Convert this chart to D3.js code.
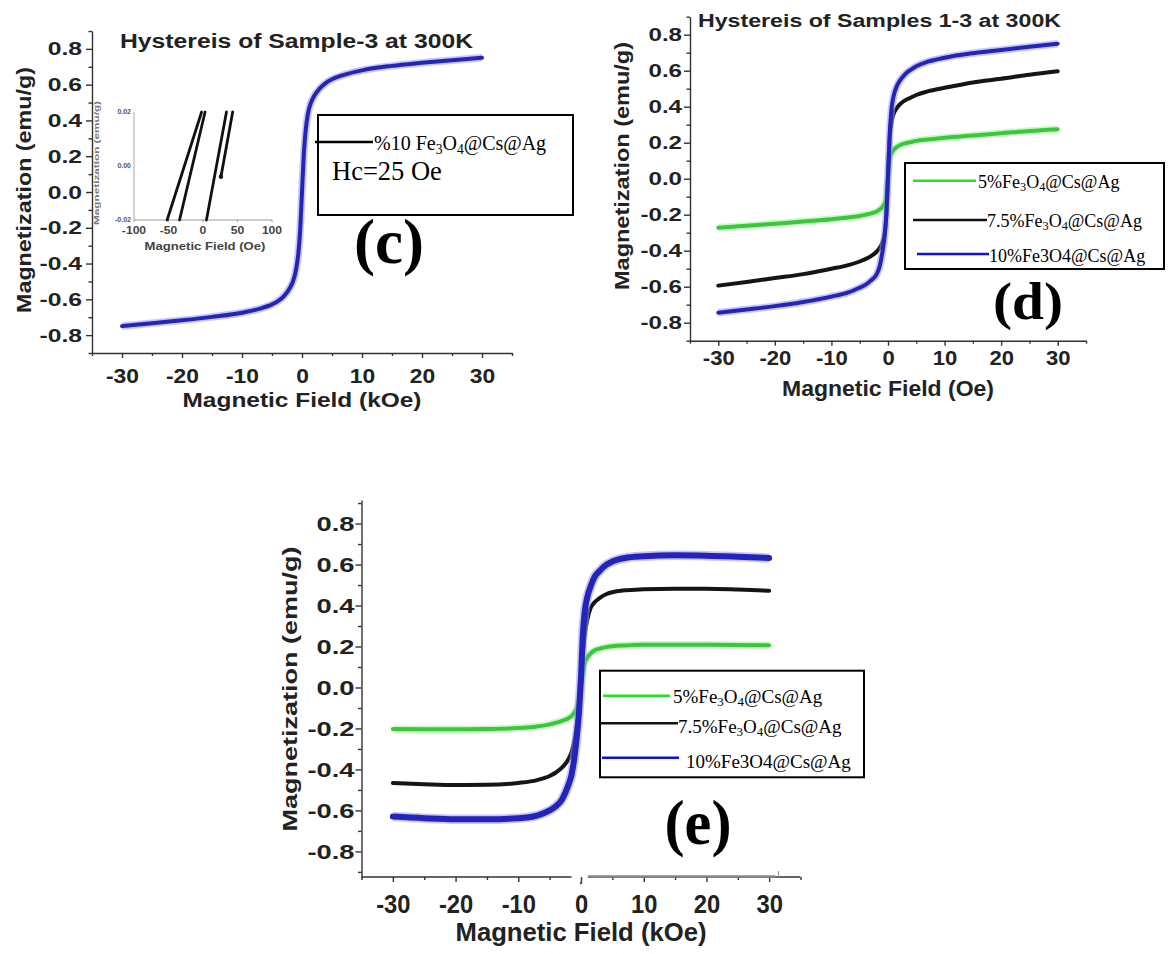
<!DOCTYPE html>
<html>
<head>
<meta charset="utf-8">
<script src="https://cdn.jsdelivr.net/npm/d3@7"></script>
<style>
  body { margin: 0; background: #fff; }
  svg { display: block; }
</style>
</head>
<body>
<svg id="fig" width="1171" height="954"></svg>
<script>
// ---------------------------------------------------------------
// Measured hysteresis data (field in kOe, magnetisation in emu/g)
// ---------------------------------------------------------------
const fieldKOe = [-30, -25, -20, -15, -10, -7, -5, -4, -3, -2, -1.5, -1, -0.6, -0.3, 0,
                  0.3, 0.6, 1, 1.5, 2, 3, 4, 5, 7, 10, 15, 20, 25, 30];

// (c) sample 3, 10 % Fe3O4@Cs@Ag
const magSample3 = [-0.750, -0.734, -0.717, -0.698, -0.675, -0.652, -0.628, -0.610, -0.582, -0.535, -0.500, -0.435, -0.340, -0.210, 0.000,
                    0.210, 0.340, 0.440, 0.500, 0.535, 0.580, 0.610, 0.630, 0.655, 0.680, 0.705, 0.722, 0.737, 0.750];

// (d) samples 1-3
const magD5  = [-0.272, -0.262, -0.250, -0.238, -0.225, -0.215, -0.207, -0.200, -0.193, -0.182, -0.172, -0.158, -0.138, -0.108, 0.000,
                0.110, 0.140, 0.160, 0.175, 0.185, 0.196, 0.203, 0.210, 0.218, 0.228, 0.240, 0.252, 0.265, 0.275];
const magD75 = [-0.594, -0.574, -0.552, -0.530, -0.500, -0.480, -0.460, -0.447, -0.430, -0.405, -0.385, -0.355, -0.305, -0.215, 0.000,
                0.220, 0.310, 0.360, 0.390, 0.410, 0.435, 0.450, 0.465, 0.485, 0.505, 0.535, 0.555, 0.578, 0.597];
const magD10 = [-0.745, -0.727, -0.708, -0.685, -0.655, -0.632, -0.605, -0.590, -0.565, -0.530, -0.490, -0.410, -0.320, -0.200, 0.020,
                0.250, 0.380, 0.460, 0.510, 0.540, 0.580, 0.605, 0.625, 0.650, 0.672, 0.697, 0.715, 0.733, 0.750];

// (e) samples 1-3
const magE5  = [-0.203, -0.204, -0.204, -0.203, -0.198, -0.190, -0.180, -0.172, -0.163, -0.150, -0.140, -0.120, -0.095, -0.060, 0.000,
                0.070, 0.120, 0.145, 0.165, 0.178, 0.190, 0.197, 0.201, 0.205, 0.208, 0.209, 0.208, 0.207, 0.206];
const magE75 = [-0.466, -0.472, -0.476, -0.475, -0.466, -0.452, -0.432, -0.415, -0.390, -0.350, -0.315, -0.250, -0.170, -0.090, 0.020,
                0.170, 0.260, 0.330, 0.385, 0.410, 0.437, 0.455, 0.465, 0.474, 0.479, 0.482, 0.482, 0.478, 0.472];
const magE10 = [-0.630, -0.638, -0.643, -0.643, -0.638, -0.625, -0.600, -0.580, -0.545, -0.475, -0.425, -0.330, -0.220, -0.110, 0.050,
                0.260, 0.370, 0.440, 0.490, 0.530, 0.570, 0.598, 0.615, 0.632, 0.640, 0.645, 0.643, 0.638, 0.632];

// inset of (c): low-field branches of the loop (field in Oe)
const insetBranchField = [[-52, -2], [-34, 3], [5, 34], [26, 43]];
const insetBranchMag   = [[-0.02, 0.02], [-0.02, 0.02], [-0.02, 0.02], [-0.004, 0.02]];
const insetFieldTicks  = [-100, -50, 0, 50, 100];
const insetMagTicks    = [-0.02, 0, 0.02];

// axis ticks
const fieldTicks = [-30, -20, -10, 0, 10, 20, 30];
const fieldMinor = [-35, -25, -15, -5, 5, 15, 25, 35];
const magTicks   = [-0.8, -0.6, -0.4, -0.2, 0, 0.2, 0.4, 0.6, 0.8];
const magMinor   = [-0.9, -0.7, -0.5, -0.3, -0.1, 0.1, 0.3, 0.5, 0.7, 0.9];

// legend labels: odd entries are subscripts
const legendC  = [["%10 Fe", "3", "O", "4", "@Cs@Ag"]];
const legendDE = [["5%Fe", "3", "O", "4", "@Cs@Ag"],
                  ["7.5%Fe", "3", "O", "4", "@Cs@Ag"],
                  ["10%Fe3O4@Cs@Ag"]];

const curveColors  = { g: "#38c838", k: "#151515", b: "#2424bc" };
const legendColors = { g: "#22e022", k: "#111111", b: "#1010e0" };

// ---------------------------------------------------------------
const svg = d3.select("#fig");
const SANS = "'Liberation Sans', Arial, sans-serif";
const SERIF = "'Liberation Serif', 'Times New Roman', serif";
const AXIS = "#333";

// widen a text run to k times its natural length (or to an exact length)
function stretch(sel, k, exact) {
  sel.each(function () {
    const w = exact != null ? exact : this.getComputedTextLength() * k;
    this.setAttribute("textLength", w);
    this.setAttribute("lengthAdjust", "spacingAndGlyphs");
  });
}

function panel(p) {
  const x = d3.scaleLinear().domain([-35, 35]).range(p.xr);
  const y = d3.scaleLinear().domain(p.yd).range(p.yr);
  const g = svg.append("g");

  // x axis
  const gx = g.append("g").attr("transform", `translate(0,${p.yr[0]})`);
  gx.call(d3.axisBottom(x).tickValues(fieldMinor).tickSize(3).tickSizeOuter(0).tickFormat(""));
  gx.select(".domain").remove();
  const gxm = g.append("g").attr("transform", `translate(0,${p.yr[0]})`);
  gxm.call(d3.axisBottom(x).tickValues(fieldTicks).tickSize(5).tickSizeOuter(0).tickFormat(d => String(d)));
  gxm.selectAll("text")
    .attr("dy", null).attr("y", p.xlBase - p.yr[0])
    .style("font-family", SANS).style("font-weight", "bold")
    .style("font-size", p.xlSize + "px").attr("fill", "#222");
  stretch(gxm.selectAll("text"), p.xlK);
  if (p.gap) {
    gxm.select(".domain").remove();
    g.append("line").attr("x1", x(-35)).attr("x2", x(-1.5)).attr("y1", p.yr[0]).attr("y2", p.yr[0]);
    g.append("line").attr("x1", x(1.1)).attr("x2", x(35)).attr("y1", p.yr[0]).attr("y2", p.yr[0]);
    g.append("line").attr("x1", x(1.1)).attr("x2", x(31)).attr("y1", p.yr[0] - 0.5).attr("y2", p.yr[0] - 0.5)
      .attr("stroke", "#888").attr("stroke-width", 2.4);
    g.append("line").attr("x1", x(31.5)).attr("x2", x(31.5)).attr("y1", p.yr[0]).attr("y2", p.yr[0] - 6)
      .attr("stroke", "#999").attr("stroke-width", 1.2);
    g.append("circle").attr("cx", x(0)).attr("cy", p.yr[0] + 6).attr("r", 1.3).attr("fill", "#555");
  }

  // y axis
  const gy = g.append("g").attr("transform", `translate(${p.xr[0]},0)`);
  gy.call(d3.axisLeft(y).tickValues(magMinor).tickSize(3.5).tickSizeOuter(0).tickFormat(""));
  gy.select(".domain").remove();
  const gym = g.append("g").attr("transform", `translate(${p.xr[0]},0)`);
  gym.call(d3.axisLeft(y).tickValues(magTicks).tickSize(6).tickSizeOuter(0).tickPadding(p.ylPad)
    .tickFormat(d => d.toFixed(1)));
  gym.selectAll("text")
    .style("font-family", SANS).style("font-weight", "bold")
    .style("font-size", p.ylSize + "px").attr("fill", "#222");
  stretch(gym.selectAll("text"), p.ylK);

  g.selectAll(".domain, .tick line").attr("stroke", AXIS).attr("stroke-width", 1.4);
  g.selectAll("line:not(.tick line)").filter(function () { return !this.getAttribute("stroke"); })
    .attr("stroke", AXIS).attr("stroke-width", 1.4);

  // axis titles
  const xt = g.append("text").attr("x", (p.xr[0] + p.xr[1]) / 2).attr("y", p.xtBase)
    .attr("text-anchor", "middle").attr("fill", "#222")
    .style("font-family", SANS).style("font-weight", "bold").style("font-size", p.xtSize + "px")
    .text(p.xTitle);
  stretch(xt, 1, p.xtLen);
  const yt = g.append("text")
    .attr("transform", `translate(${p.ytX},${p.ytY}) rotate(-90)`)
    .attr("text-anchor", "middle").attr("dy", "0.35em").attr("fill", "#222")
    .style("font-family", SANS).style("font-weight", "bold").style("font-size", p.ytSize + "px")
    .text("Magnetization (emu/g)");
  stretch(yt, 1, p.ytLen);

  if (p.title) {
    const tt = g.append("text").attr("x", p.title.x).attr("y", p.title.y).attr("fill", "#222")
      .style("font-family", SANS).style("font-weight", "bold").style("font-size", p.title.size + "px")
      .text(p.title.text);
    stretch(tt, 1, p.title.len);
  }

  // curves
  const line = d3.line().x(d => x(d[0])).y(d => y(d[1])).curve(d3.curveMonotoneX);
  p.series.forEach(s => {
    const pts = d3.zip(fieldKOe, s.values);
    if (s.halo) {
      g.append("path").attr("d", line(pts)).attr("fill", "none")
        .attr("stroke", s.halo).attr("stroke-width", s.width + 3.5).attr("stroke-opacity", 0.55)
        .attr("stroke-linejoin", "round");
    }
    g.append("path").attr("d", line(pts)).attr("fill", "none")
      .attr("stroke", s.color).attr("stroke-width", s.width)
      .attr("stroke-linejoin", "round").attr("stroke-linecap", "round");
  });

  // panel letter
  const lt = g.append("text").attr("x", p.letter.x).attr("y", p.letter.y).attr("text-anchor", "middle")
    .style("font-family", SERIF).style("font-weight", "bold").style("font-size", p.letter.size + "px")
    .attr("fill", "#000").text(p.letter.text);
  if (p.letter.len) stretch(lt, 1, p.letter.len);

  return { x, y, g };
}

// legend label with subscripts
function richLabel(sel, parts, size) {
  parts.forEach((t, i) => {
    const sub = i % 2 === 1;
    sel.append("tspan")
      .attr("dy", sub ? size * 0.18 : (i > 0 ? -size * 0.18 : 0))
      .style("font-size", (sub ? size * 0.68 : size) + "px")
      .text(t);
  });
}

function legend(box, entries, size) {
  svg.append("rect").attr("x", box.x).attr("y", box.y).attr("width", box.w).attr("height", box.h)
    .attr("fill", "#fff").attr("stroke", "#000").attr("stroke-width", 2);
  entries.forEach(e => {
    svg.append("line").attr("x1", e.x1).attr("x2", e.x2).attr("y1", e.ly).attr("y2", e.ly)
      .attr("stroke", e.color).attr("stroke-width", 2.4);
    const t = svg.append("text").attr("x", e.tx).attr("y", e.ty).attr("fill", "#000")
      .style("font-family", SERIF).style("font-size", size + "px");
    richLabel(t, e.parts, size);
  });
}

// ---------------- (c) ----------------
panel({
  xr: [92, 512], yr: [353, 31], yd: [-0.9, 0.9],
  xlBase: 383, xlSize: 19.5, xlK: 1.17,
  ylSize: 19, ylK: 1.3, ylPad: 4,
  xTitle: "Magnetic Field (kOe)", xtBase: 407, xtSize: 19.5, xtLen: 239,
  ytX: 24, ytY: 190, ytSize: 20, ytLen: 246,
  title: { text: "Hystereis of Sample-3 at 300K", x: 120, y: 48, size: 20, len: 353 },
  series: [{ values: magSample3, color: curveColors.b, width: 4, halo: "#9a9ae6" }],
  letter: { text: "(c)", x: 389, y: 263, size: 64, len: 70 }
});

// inset of (c)
{
  const ix = d3.scaleLinear().domain([-100, 100]).range([134, 272]);
  const iy = d3.scaleLinear().domain([-0.02, 0.02]).range([220, 112]);
  const gi = svg.append("g");
  gi.append("line").attr("x1", ix(-100)).attr("x2", ix(100)).attr("y1", iy(-0.02)).attr("y2", iy(-0.02))
    .attr("stroke", "#999").attr("stroke-width", 1.2);
  gi.append("line").attr("x1", ix(-100)).attr("x2", ix(-100)).attr("y1", iy(-0.02)).attr("y2", iy(0.02))
    .attr("stroke", "#aaa").attr("stroke-width", 1);
  insetFieldTicks.forEach(v => {
    gi.append("line").attr("x1", ix(v)).attr("x2", ix(v)).attr("y1", iy(-0.02)).attr("y2", iy(-0.02) + 2)
      .attr("stroke", "#999");
    const t = gi.append("text").attr("x", ix(v)).attr("y", 234).attr("text-anchor", "middle")
      .attr("fill", "#444").style("font-family", SANS).style("font-weight", "bold").style("font-size", "11px")
      .text(String(v));
    stretch(t, 1.1);
  });
  insetMagTicks.forEach(v => {
    gi.append("text").attr("x", 131).attr("y", iy(v)).attr("dy", "0.35em").attr("text-anchor", "end")
      .attr("fill", "#555").style("font-family", SANS).style("font-weight", "bold").style("font-size", "7px")
      .text(v.toFixed(2));
  });
  const ixt = gi.append("text").attr("x", 205).attr("y", 250).attr("text-anchor", "middle")
    .attr("fill", "#444").style("font-family", SANS).style("font-weight", "bold").style("font-size", "11px")
    .text("Magnetic Field (Oe)");
  stretch(ixt, 1, 121);
  const iyt = gi.append("text").attr("transform", "translate(96,163) rotate(-90)")
    .attr("text-anchor", "middle").attr("dy", "0.35em").attr("fill", "#777")
    .style("font-family", SANS).style("font-weight", "bold").style("font-size", "8px")
    .text("Magnetization (emu/g)");
  stretch(iyt, 1, 124);
  const il = d3.line().x(d => ix(d[0])).y(d => iy(d[1]));
  insetBranchField.forEach((f, i) => {
    const pts = d3.zip(f, insetBranchMag[i]);
    gi.append("path").attr("d", il(pts)).attr("fill", "none").attr("stroke", "#111")
      .attr("stroke-width", 2.8).attr("stroke-linecap", "round");
  });
  gi.append("circle").attr("cx", ix(insetBranchField[3][0])).attr("cy", iy(insetBranchMag[3][0]))
    .attr("r", 2.2).attr("fill", "#111");
}

legend({ x: 318, y: 115, w: 255, h: 100 },
  [{ x1: 315, x2: 373, ly: 142, color: "#000", tx: 374, ty: 150, parts: legendC[0] }], 20);
svg.append("text").attr("x", 332).attr("y", 180)
  .style("font-family", SERIF).style("font-size", "26.5px").attr("fill", "#000").text("Hc=25 Oe");

// ---------------- (d) ----------------
panel({
  xr: [690, 1086], yr: [340.7, 16.7], yd: [-0.9, 0.9],
  xlBase: 365, xlSize: 21, xlK: 1.05,
  ylSize: 19, ylK: 1.27, ylPad: 2,
  xTitle: "Magnetic Field (Oe)", xtBase: 396, xtSize: 21.5, xtLen: 212,
  ytX: 621.5, ytY: 166, ytSize: 20, ytLen: 248,
  title: { text: "Hystereis of Samples 1-3 at 300K", x: 698, y: 27, size: 17.5, len: 363 },
  series: [
    { values: magD5, color: curveColors.g, width: 4, halo: "#a8eca8" },
    { values: magD75, color: curveColors.k, width: 4 },
    { values: magD10, color: curveColors.b, width: 4, halo: "#9a9ae6" }
  ],
  letter: { text: "(d)", x: 1028, y: 318.5, size: 52, len: 70 }
});
legend({ x: 905, y: 163, w: 259, h: 106 }, [
  { x1: 913, x2: 976, ly: 180.7, color: legendColors.g, tx: 978, ty: 188, parts: legendDE[0] },
  { x1: 913, x2: 987, ly: 220, color: legendColors.k, tx: 987, ty: 227, parts: legendDE[1] },
  { x1: 917, x2: 989, ly: 254, color: legendColors.b, tx: 989, ty: 262, parts: legendDE[2] }
], 18);

// ---------------- (e) ----------------
panel({
  xr: [361.5, 800.5], yr: [877, 500], yd: [-0.925, 0.915], gap: true,
  xlBase: 913, xlSize: 25, xlK: 0.95,
  ylSize: 21, ylK: 1.3, ylPad: 1,
  xTitle: "Magnetic Field (kOe)", xtBase: 941, xtSize: 25, xtLen: 251,
  ytX: 290, ytY: 689, ytSize: 21, ytLen: 285,
  series: [
    { values: magE5, color: curveColors.g, width: 4, halo: "#a8eca8" },
    { values: magE75, color: curveColors.k, width: 4 },
    { values: magE10, color: curveColors.b, width: 6, halo: "#9a9ae6" }
  ],
  letter: { text: "(e)", x: 698, y: 844, size: 63, len: 67 }
});
legend({ x: 600, y: 670.7, w: 264, h: 106.6 }, [
  { x1: 603, x2: 670, ly: 695.7, color: legendColors.g, tx: 673, ty: 703, parts: legendDE[0] },
  { x1: 600, x2: 678, ly: 723.3, color: legendColors.k, tx: 678, ty: 733, parts: legendDE[1] },
  { x1: 602, x2: 679, ly: 757.7, color: legendColors.b, tx: 686, ty: 768, parts: legendDE[2] }
], 19);
</script>
</body>
</html>
